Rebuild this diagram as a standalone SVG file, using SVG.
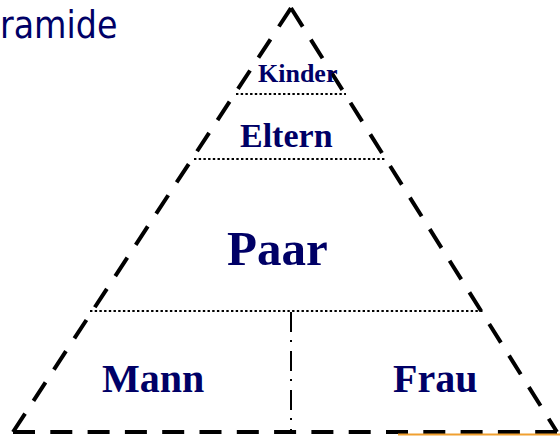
<svg xmlns="http://www.w3.org/2000/svg" width="560" height="436" viewBox="0 0 560 436">
<style>
.lbl{font-family:"Liberation Serif","Times New Roman",serif;font-weight:bold;fill:#000066}
.title{font-family:"DejaVu Sans Condensed","DejaVu Sans",sans-serif;font-stretch:condensed;fill:#000066}
.edge{stroke:#000;stroke-width:4;stroke-dasharray:22 15.3;fill:none}
.dot{stroke:#000;stroke-width:2;stroke-dasharray:2.4 2.3;fill:none}
.dashdot{stroke:#000;stroke-width:2;stroke-dasharray:20 8 2 9;fill:none}
</style>
<rect width="560" height="436" fill="#fff"/>
<g id="title"><text class="title" x="0" y="38" font-size="37">ramide</text></g>
<g id="pyramid">
<line class="edge" x1="13" y1="432" x2="291" y2="8"/>
<line class="edge" x1="291" y1="8" x2="557" y2="432"/>
<line class="edge" x1="13" y1="432" x2="557" y2="432"/>
</g>
<g id="connectors">
<line class="dot" x1="236" y1="94" x2="346" y2="94"/>
<line class="dot" x1="194" y1="159" x2="386" y2="159"/>
<line class="dot" x1="90" y1="311" x2="483" y2="311"/>
<line class="dashdot" x1="291" y1="312" x2="291" y2="432"/>
</g>
<g id="kinder"><text class="lbl" x="258" y="82" font-size="26">Kinder</text></g>
<g id="eltern"><text class="lbl" x="240" y="147" font-size="34">Eltern</text></g>
<g id="paar"><text class="lbl" x="227" y="265" font-size="49">Paar</text></g>
<g id="mann"><text class="lbl" x="102" y="392" font-size="40">Mann</text></g>
<g id="frau"><text class="lbl" x="393" y="392" font-size="40">Frau</text></g>
<g id="accent"><line x1="398" y1="434.5" x2="560" y2="434.5" stroke="#f0a030" stroke-width="2"/></g>
</svg>
